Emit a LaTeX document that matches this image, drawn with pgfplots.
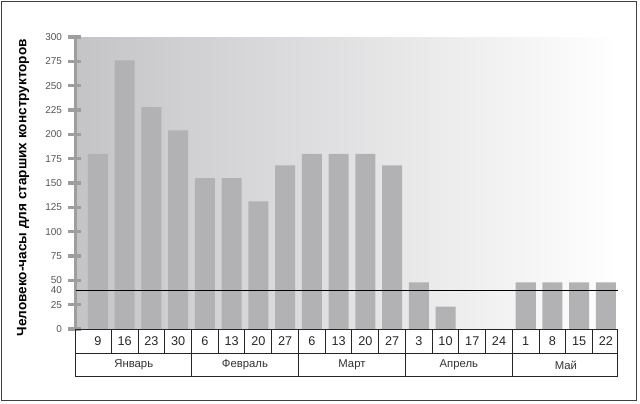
\documentclass[border=0pt]{standalone}
\usepackage{pgfplots}
\pgfplotsset{compat=1.18}
\usepackage{fontspec}
\setmainfont{Liberation Sans}
\definecolor{barc}{RGB}{178,178,180}
\definecolor{axisgray}{RGB}{158,158,160}
\definecolor{bgl}{RGB}{196,196,199}
\definecolor{txt}{RGB}{85,85,85}
\begin{document}
\begin{tikzpicture}
\useasboundingbox (-57pt,-56.25pt) rectangle (423pt,246.75pt);
\begin{axis}[
 name=ax,
 at={(0,0)}, anchor=south west,
 scale only axis, width=406.5pt, height=219pt,
 xmin=-0.82, xmax=19.45, ymin=0, ymax=300,
 clip=false,
 unbounded coords=jump,
 axis y line*=left, axis x line*=bottom,
 x axis line style={draw=none},
 y axis line style={draw=none},
 axis background/.style={left color=bgl, right color=white},
 ytick={0,25,...,300},
 extra y ticks={40},
 extra y tick style={ytick style={draw=none}},
 ytick align=outside,
 xtick align=inside,
 major tick length=6pt,
 ytick style={draw=none},
 yticklabel style={font=\fontsize{7.5}{8}\selectfont, text=txt, xshift=-1pt},
 /pgf/number format/assume math mode=true,
 xtick={0,...,19},
 xticklabels={9,16,23,30,6,13,20,27,6,13,20,27,3,10,17,24,1,8,15,22},
 xtick style={draw=none},
 xticklabel style={anchor=center, yshift=-9pt, font=\fontsize{9.5}{10}\selectfont, text=black!85},
]
\addplot[ybar, bar width=15pt, fill=barc, draw=none] coordinates {
 (0,180) (1,276) (2,228) (3,204) (4,155) (5,155) (6,131) (7,168)
 (8,180) (9,180) (10,180) (11,168) (12,48) (13,23) (14,0) (15,0)
 (16,48) (17,48) (18,48) (19,48)};
\addplot[axisgray, line width=2.4pt, line cap=butt] coordinates {(-0.845,0) (-0.845,300)};
\addplot[axisgray, line width=2.4pt, line cap=butt] coordinates {
 (-1.12,0) (-0.65,0) (nan,nan)
 (-1.12,25) (-0.65,25) (nan,nan)
 (-1.12,50) (-0.65,50) (nan,nan)
 (-1.12,75) (-0.65,75) (nan,nan)
 (-1.12,100) (-0.65,100) (nan,nan)
 (-1.12,125) (-0.65,125) (nan,nan)
 (-1.12,150) (-0.65,150) (nan,nan)
 (-1.12,175) (-0.65,175) (nan,nan)
 (-1.12,200) (-0.65,200) (nan,nan)
 (-1.12,225) (-0.65,225) (nan,nan)
 (-1.12,250) (-0.65,250) (nan,nan)
 (-1.12,275) (-0.65,275) (nan,nan)
 (-1.12,300) (-0.65,300)};
\addplot[black, line width=0.8pt] coordinates {(-0.82,40) (19.45,40)};
\draw[black!85, line width=0.75pt] (axis cs:-0.82,0) -- (axis cs:19.45,0);
\draw[black!85, line width=0.75pt] (axis cs:-0.82,-24.66) -- (axis cs:19.45,-24.66);
\draw[black!85, line width=0.75pt] (axis cs:-0.82,-49.3) -- (axis cs:19.45,-49.3);
\pgfplotsinvokeforeach{-0.82,0.5,1.5,2.5,3.5,4.5,5.5,6.5,7.5,8.5,9.5,10.5,11.5,12.5,13.5,14.5,15.5,16.5,17.5,18.5,19.45}{
 \draw[black!85, line width=0.75pt] (axis cs:#1,0) -- (axis cs:#1,-24.66);
}
\pgfplotsinvokeforeach{-0.82,3.5,7.5,11.5,15.5,19.45}{
 \draw[black!85, line width=0.75pt] (axis cs:#1,-24.66) -- (axis cs:#1,-49.3);
}
\node[font=\fontsize{8.5}{9}\selectfont, text=black!80] at (axis cs:1.34,-37) {Январь};
\node[font=\fontsize{8.5}{9}\selectfont, text=black!80] at (axis cs:5.5,-37) {Февраль};
\node[font=\fontsize{8.5}{9}\selectfont, text=black!80] at (axis cs:9.5,-37) {Март};
\node[font=\fontsize{8.5}{9}\selectfont, text=black!80] at (axis cs:13.5,-37) {Апрель};
\node[font=\fontsize{8.5}{9}\selectfont, text=black!80] at (axis cs:17.5,-37) {Май};
\end{axis}
\node[rotate=90, font=\bfseries\fontsize{10.2}{11}\selectfont] at (-39.75pt,106pt) {Человеко-часы для старших конструкторов};
\draw[line width=0.75pt, black!75] (-55.5pt,-53.25pt) rectangle (420pt,245.25pt);
\end{tikzpicture}
\end{document}
